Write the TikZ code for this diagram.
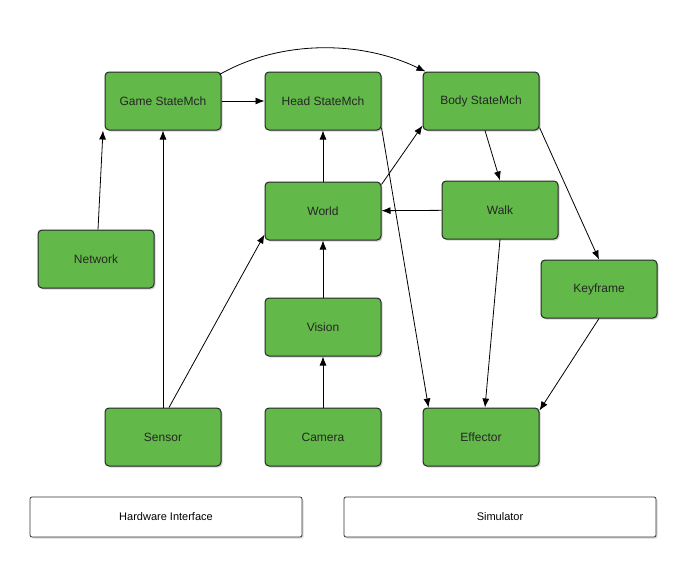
\documentclass[tikz,border=0pt]{standalone}
\usepackage{fontspec}
\setmainfont{Liberation Sans}
\usetikzlibrary{arrows.meta,shadows}
\definecolor{gbox}{RGB}{98,184,72}
\begin{document}
\begin{tikzpicture}[x=1pt,y=-1pt,
  box/.style={draw=black!85,line width=1pt,fill=gbox,rounded corners=4pt,minimum width=116pt,minimum height=58pt,text=black!85,font=\fontsize{12}{14}\selectfont,drop shadow={shadow xshift=1.5pt,shadow yshift=-1.5pt,opacity=0.35}},
  wbox/.style={draw=black!80,line width=0.8pt,fill=white,rounded corners=2pt,minimum height=40pt,font=\fontsize{11}{13}\selectfont,drop shadow={shadow xshift=1.5pt,shadow yshift=-1.5pt,opacity=0.3}},
  ar/.style={-{Latex[length=9pt,width=7pt]},line width=0.8pt}]
\useasboundingbox (0,0) rectangle (694,570);
\node[box] (game) at (163,101) {Game StateMch};
\node[box] (head) at (323,101) {Head StateMch};
\node[box] (body) at (481,101) {Body StateMch};
\node[box] (world) at (323,211) {World};
\node[box] (walk) at (500,210) {Walk};
\node[box] (net) at (96,259) {Network};
\node[box] (key) at (599,289) {Keyframe};
\node[box] (vis) at (323,327) {Vision};
\node[box] (sens) at (163,437) {Sensor};
\node[box] (cam) at (323,437) {Camera};
\node[box] (eff) at (481,437) {Effector};
\node[wbox,minimum width=272pt] (hw) at (166,517) {Hardware Interface};
\node[wbox,minimum width=312pt] (sim) at (500,517) {Simulator};
\draw[ar] (game) -- (head);
\draw[ar] (game.north east) ++(-2,3) .. controls (280,40) and (360,40) .. ([xshift=3pt]body.north west);
\draw[ar] (net.north) ++(2,0) -- ([xshift=-60pt]game.south);
\draw[ar] (sens.north) -- (game.south);
\draw[ar] ([xshift=6pt]sens.north) -- ([yshift=6pt]world.south west);
\draw[ar] (world) -- (head);
\draw[ar] ([yshift=-3pt]world.north east) -- ([yshift=5pt]body.south west);
\draw[ar] (walk) -- (world);
\draw[ar] ([xshift=4pt]body.south) -- (walk.north);
\draw[ar] ([yshift=3pt]body.south east) -- (key.north);
\draw[ar] ([yshift=3pt]head.south east) -- ([xshift=6pt]eff.north west);
\draw[ar] (walk.south) -- ([xshift=4pt]eff.north);
\draw[ar] (key.south) -- ([yshift=-3pt]eff.north east);
\draw[ar] (vis) -- (world);
\draw[ar] (cam) -- (vis);
\end{tikzpicture}
\end{document}
